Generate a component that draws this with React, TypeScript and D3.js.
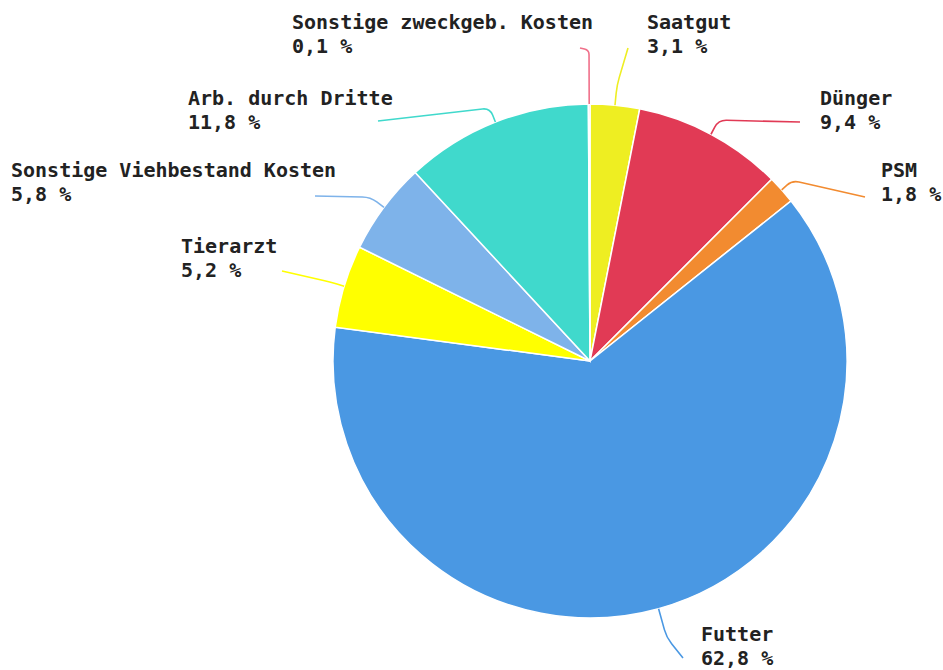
import React from "react";
import * as d3 from "d3";

const categories = [
  "Saatgut",
  "Dünger",
  "PSM",
  "Futter",
  "Tierarzt",
  "Sonstige Viehbestand Kosten",
  "Arb. durch Dritte",
  "Sonstige zweckgeb. Kosten",
];
const values = [3.1, 9.4, 1.8, 62.8, 5.2, 5.8, 11.8, 0.1];
const colors = [
  "#EEEE22",
  "#E13A55",
  "#F28B30",
  "#4A98E3",
  "#FFFF00",
  "#7EB3EA",
  "#40D9CC",
  "#F0708A",
];

// layout: label anchor (x, first baseline), leader elbow extension, leader end
const labelLayout = [
  { x: 647, y: 29, ext: 20, ex: 628, ey: 48 },
  { x: 820, y: 105, ext: 16, ex: 800, ey: 122 },
  { x: 881, y: 177, ext: 14, ex: 865, ey: 197 },
  { x: 701, y: 641, ext: 30, ex: 683, ey: 658 },
  { x: 181, y: 253, ext: 15, ex: 282, ey: 271 },
  { x: 11, y: 177, ext: 17, ex: 315, ey: 196 },
  { x: 188, y: 105, ext: 15, ex: 378, ey: 121 },
  { x: 292, y: 29, ext: 54, ex: 580, ey: 48 },
];

const W = 943;
const H = 670;
const CX = 590;
const CY = 361;
const R = 257;

function pt(angle: number, r: number): [number, number] {
  return [CX + r * Math.sin(angle), CY - r * Math.cos(angle)];
}

function leaderPath(mid: number, ext: number, ex: number, ey: number) {
  const s = pt(mid, R);
  const e = pt(mid, R + ext);
  const end: [number, number] = [ex, ey];
  const d1 = Math.hypot(e[0] - s[0], e[1] - s[1]);
  const d2 = Math.hypot(end[0] - e[0], end[1] - e[1]);
  const rc = Math.min(8, d1 * 0.5, d2 * 0.5);
  const p1: [number, number] = [
    e[0] + ((s[0] - e[0]) * rc) / d1,
    e[1] + ((s[1] - e[1]) * rc) / d1,
  ];
  const p2: [number, number] = [
    e[0] + ((end[0] - e[0]) * rc) / d2,
    e[1] + ((end[1] - e[1]) * rc) / d2,
  ];
  const p = d3.path();
  p.moveTo(s[0], s[1]);
  p.lineTo(p1[0], p1[1]);
  p.quadraticCurveTo(e[0], e[1], p2[0], p2[1]);
  p.lineTo(end[0], end[1]);
  return p.toString();
}

export default function App() {
  const data = categories.map((c, i) => ({ name: c, value: values[i], i }));
  const pie = d3
    .pie<any>()
    .sort(null)
    .value((d: any) => d.value)
    .startAngle(0)
    .endAngle(2 * Math.PI);
  const arcs = pie(data);
  const arc = d3.arc<any>().innerRadius(0).outerRadius(R);
  const fmt = (v: number) => v.toFixed(1).replace(".", ",") + " %";

  return (
    <svg
      width={W}
      height={H}
      style={{ position: "absolute", left: 0, top: 0, background: "#fff" }}
      fontFamily="'DejaVu Sans Mono', monospace"
      fontWeight="bold"
      fontSize={20}
    >
      <g transform={`translate(${CX},${CY})`}>
        {arcs.map((a: any, i: number) => (
          <path
            key={i}
            d={arc(a) as string}
            fill={colors[i]}
            stroke="#fff"
            strokeWidth={1.5}
          />
        ))}
      </g>
      {arcs.map((a: any, i: number) => {
        const mid = (a.startAngle + a.endAngle) / 2;
        const L = labelLayout[i];
        return (
          <path
            key={"l" + i}
            d={leaderPath(mid, L.ext, L.ex, L.ey)}
            fill="none"
            stroke={colors[i]}
            strokeWidth={1.6}
          />
        );
      })}
      {arcs.map((a: any, i: number) => {
        const L = labelLayout[i];
        return (
          <text key={"t" + i} x={L.x} y={L.y} fill="#222">
            <tspan x={L.x}>{categories[i]}</tspan>
            <tspan x={L.x} dy={24}>
              {fmt(values[i])}
            </tspan>
          </text>
        );
      })}
    </svg>
  );
}
